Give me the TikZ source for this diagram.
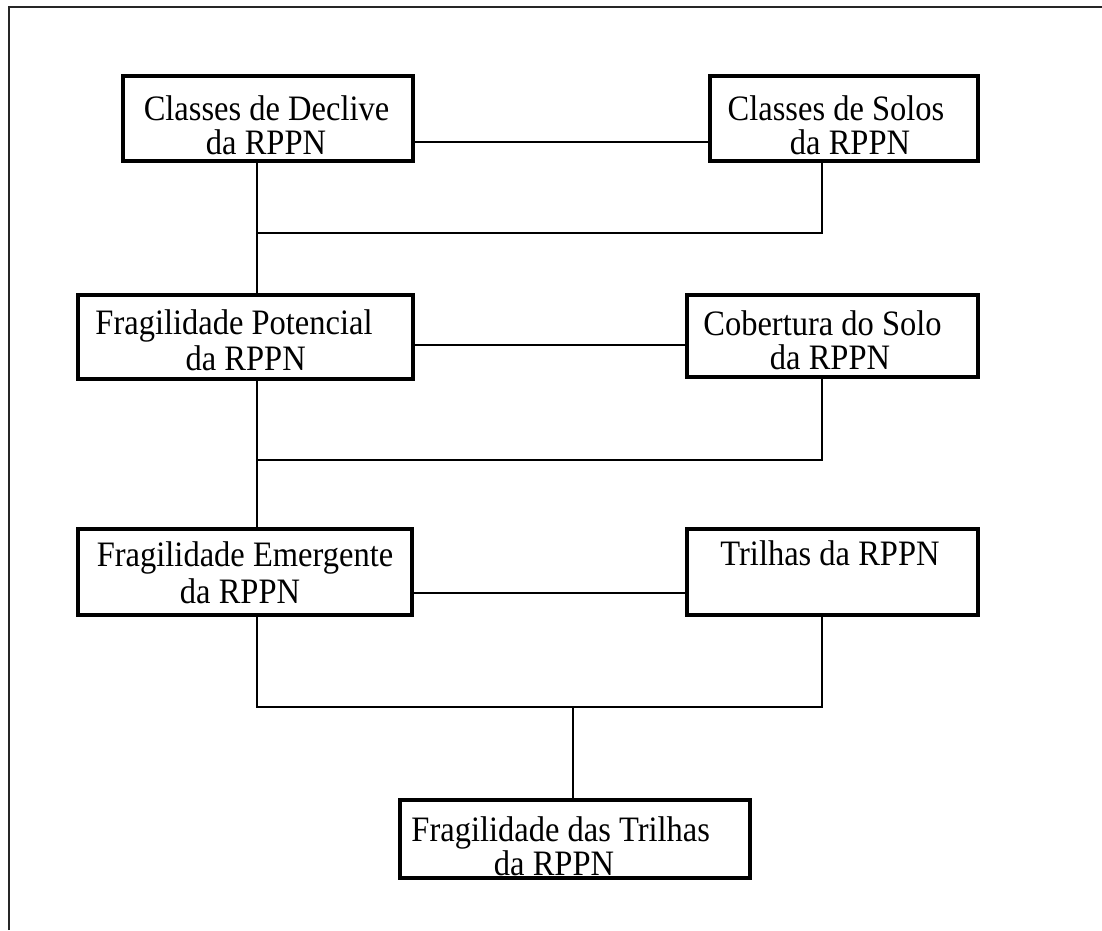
\documentclass[tikz,border=0pt]{standalone}
\usepackage{fontspec}
\setmainfont{Liberation Serif}
\newcommand\vst[1]{\scalebox{1}[1.1]{#1}}
\tikzset{
  box/.style={draw=black, line width=4pt, fill=white, inner sep=0pt},
  conn/.style={draw=black, line width=2pt},
  frame/.style={draw=black!85, line width=1.7pt},
  lbl/.style={anchor=base, inner sep=0pt, font=\fontsize{32.5}{33}\selectfont}
}
\begin{document}
\begin{tikzpicture}[x=1pt,y=-1pt]
\useasboundingbox (0,0) rectangle (1102,930);
% outer frame (only top and left visible)
\draw[frame] (9,930) -- (9,7) -- (1102,7);

% boxes (outer size minus line width)
\node[box, minimum width=290pt, minimum height=85pt] (b1) at (268,118.5) {};
\node[box, minimum width=268pt, minimum height=85pt] (b2) at (844,118.5) {};
\node[box, minimum width=335pt, minimum height=84pt] (b3) at (245.5,337) {};
\node[box, minimum width=291pt, minimum height=82pt] (b4) at (832.5,336) {};
\node[box, minimum width=334pt, minimum height=86pt] (b5) at (245,572) {};
\node[box, minimum width=291pt, minimum height=86pt] (b6) at (832.5,572) {};
\node[box, minimum width=350pt, minimum height=78pt] (b7) at (575,839) {};

% labels
\node[lbl] (t1a) at (266.5,120) {\vst{Classes de Declive}};
\node[lbl] (t1b) at (266,154) {\vst{da RPPN}};
\node[lbl] (t2a) at (836,120) {\vst{Classes de Solos}};
\node[lbl] (t2b) at (850,154) {\vst{da RPPN}};
\node[lbl] (t3a) at (234,334) {\vst{Fragilidade Potencial}};
\node[lbl] (t3b) at (245.7,370) {\vst{da RPPN}};
\node[lbl] (t4a) at (822.5,335) {\vst{Cobertura do Solo}};
\node[lbl] (t4b) at (830,369) {\vst{da RPPN}};
\node[lbl] (t5a) at (245,566.7) {\vst{Fragilidade Emergente}};
\node[lbl] (t5b) at (240,603) {\vst{da RPPN}};
\node[lbl] (t6a) at (830,565) {\vst{Trilhas da RPPN}};
\node[lbl] (t7a) at (560.7,841) {\vst{Fragilidade das Trilhas}};
\node[lbl] (t7b) at (554,875) {\vst{da RPPN}};

% helper coordinates
\coordinate (h1) at (0,142);
\coordinate (h2) at (0,345);
\coordinate (h3) at (0,593);
\coordinate (j1) at (257,233);
\coordinate (j1r) at (822,233);
\coordinate (j2) at (257,460);
\coordinate (j2r) at (822,460);
\coordinate (j3) at (257,707);
\coordinate (j3r) at (822,707);
\coordinate (j3m) at (573,707);

% side connectors
\draw[conn] (b1.east |- h1) -- (b2.west |- h1);
\draw[conn] (b3.east |- h2) -- (b4.west |- h2);
\draw[conn] (b5.east |- h3) -- (b6.west |- h3);

% merge connectors
\draw[conn] (b1.south -| j1) -- (j1) -- (j1r) -- (b2.south -| j1r);
\draw[conn] (j1) -- (b3.north -| j1);
\draw[conn] (b3.south -| j2) -- (j2) -- (j2r) -- (b4.south -| j2r);
\draw[conn] (j2) -- (b5.north -| j2);
\draw[conn] (b5.south -| j3) -- (j3) -- (j3r) -- (b6.south -| j3r);
\draw[conn] (j3m) -- (b7.north -| j3m);
\end{tikzpicture}
\end{document}
